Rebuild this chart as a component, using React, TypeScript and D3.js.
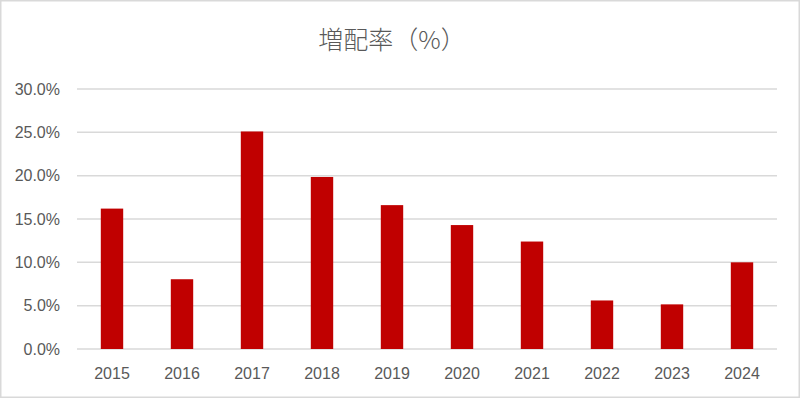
import * as d3 from 'd3';
import React, { useEffect, useRef } from 'react';

const years = ['2015', '2016', '2017', '2018', '2019', '2020', '2021', '2022', '2023', '2024'];
const growthRates = [16.2, 8.05, 25.1, 19.85, 16.6, 14.3, 12.4, 5.6, 5.15, 10.0];
const yTicks = [0, 5, 10, 15, 20, 25, 30];
const title = '増配率（%）';

const WIDTH = 800;
const HEIGHT = 398;

document.body.style.margin = '0';

export default function App() {
  const svgRef = useRef<SVGSVGElement>(null);

  useEffect(() => {
    if (!svgRef.current) return;

    const svg = d3.select(svgRef.current);
    svg.selectAll('*').remove();

    const margin = { top: 89, right: 23, bottom: 49, left: 77 };
    const innerWidth = WIDTH - margin.left - margin.right;
    const innerHeight = HEIGHT - margin.top - margin.bottom;

    // outer frame
    svg
      .append('rect')
      .attr('x', 0.75)
      .attr('y', 0.75)
      .attr('width', WIDTH - 1.5)
      .attr('height', HEIGHT - 1.5)
      .attr('fill', '#fff')
      .attr('stroke', '#d9d9d9')
      .attr('stroke-width', 1.5);

    svg
      .append('text')
      .attr('x', 392)
      .attr('y', 49)
      .attr('text-anchor', 'middle')
      .attr('fill', '#595959')
      .style('font-family', '"Noto Sans CJK JP", sans-serif')
      .style('font-weight', 300)
      .style('font-size', '25px')
      .text(title);

    const g = svg.append('g').attr('transform', `translate(${margin.left},${margin.top})`);

    const x = d3.scaleBand().domain(years).range([0, innerWidth]).paddingInner(0.68).paddingOuter(0.34);
    const y = d3.scaleLinear().domain([0, 30]).range([innerHeight, 0]);

    // gridlines
    g.append('g')
      .selectAll('line')
      .data(yTicks)
      .join('line')
      .attr('x1', 0)
      .attr('x2', innerWidth)
      .attr('y1', d => y(d))
      .attr('y2', d => y(d))
      .attr('stroke', '#d9d9d9')
      .attr('stroke-width', 1.5);

    // bars
    g.append('g')
      .selectAll('rect')
      .data(growthRates)
      .join('rect')
      .attr('x', (_, i) => x(years[i]) || 0)
      .attr('y', d => y(d))
      .attr('width', x.bandwidth())
      .attr('height', d => innerHeight - y(d))
      .attr('fill', '#c00000');

    // y labels
    g.append('g')
      .selectAll('text')
      .data(yTicks)
      .join('text')
      .attr('x', -17)
      .attr('y', d => y(d))
      .attr('dy', '0.35em')
      .attr('text-anchor', 'end')
      .attr('fill', '#595959')
      .style('font-family', '"Liberation Sans", sans-serif')
      .style('font-size', '16px')
      .text(d => d3.format('.1f')(d) + '%');

    // x labels
    g.append('g')
      .selectAll('text')
      .data(years)
      .join('text')
      .attr('x', d => (x(d) || 0) + x.bandwidth() / 2)
      .attr('y', innerHeight + 24)
      .attr('dy', '0.35em')
      .attr('text-anchor', 'middle')
      .attr('fill', '#595959')
      .style('font-family', '"Liberation Sans", sans-serif')
      .style('font-size', '16px')
      .text(d => d);
  }, []);

  return <svg ref={svgRef} width={WIDTH} height={HEIGHT} style={{ display: 'block' }} />;
}
